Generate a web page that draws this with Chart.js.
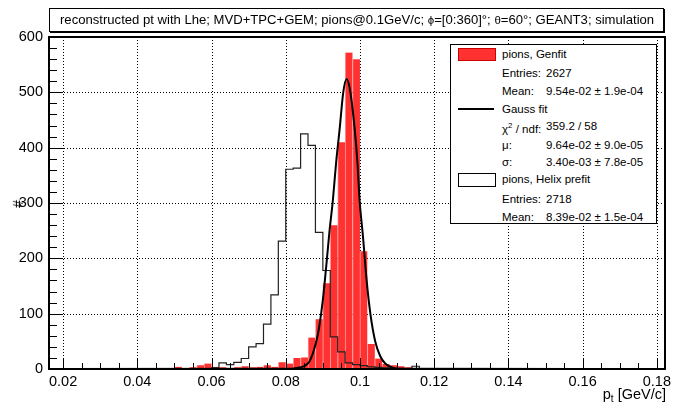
<!DOCTYPE html>
<html>
<head>
<meta charset="utf-8">
<script src="https://cdn.jsdelivr.net/npm/chart.js@4.4.1/dist/chart.umd.min.js"></script>
<style>
  html, body { margin: 0; padding: 0; background: #fff; }
  body { width: 693px; height: 410px; position: relative; overflow: hidden; font-family: "Liberation Sans", Arial, sans-serif; color: #000; }
  #c { position: absolute; left: 0; top: 0; }
  .abs { position: absolute; white-space: nowrap; }
  #titlebox { left: 49px; top: 8px; width: 613px; height: 22px; border: 1px solid #000; background: #fff; box-shadow: 1px 1px 0 #000; }
  #titletext { left: 10px; top: 3px; font-size: 13.1px; }
  #legend { left: 450px; top: 44px; width: 205px; height: 178px; border: 1.5px solid #000; background: #fff; }
  .lt { position: absolute; font-size: 11.5px; line-height: 12px; }
  .sw { position: absolute; left: 7px; width: 36px; }
  #xtitle { right: 27px; top: 386px; font-size: 14.5px; }
  #xtitle sub { font-size: 10px; vertical-align: -3px; }
  #ytitle { left: 14px; top: 196px; font-size: 14px; transform: rotate(-90deg); transform-origin: 50% 50%; }
</style>
</head>
<body>
<canvas id="c" width="693" height="410"></canvas>

<div id="titlebox" class="abs"><span id="titletext" class="abs">reconstructed pt with Lhe; MVD+TPC+GEM; pions@0.1GeV/c; <span style="font-size:11.5px">ϕ</span>=[0:360]°; <span style="font-size:11.5px">θ</span>=60°; GEANT3; simulation</span></div>

<div id="legend" class="abs"></div>

<div id="xtitle" class="abs">p<sub>t</sub> [GeV/c]</div>
<div id="ytitle" class="abs">#</div>

<script>
// ---------------- data ----------------
const binWidth = 0.002; // GeV/c

// Genfit histogram (red, filled): lower bin edges and counts
const genfitBinLow = [0.050,0.052,0.054,0.056,0.058,0.060,0.062,0.064,0.066,0.068,
                      0.070,0.072,0.074,0.076,0.078,0.080,0.082,0.084,0.086,0.088,
                      0.090,0.092,0.094,0.096,0.098,0.100,0.102,0.104,0.106,0.108,
                      0.110,0.112,0.114,0.116];
const genfitCounts = [4,2,3,7,10,4,3,2,3,5,
                      3,4,7,4,12,10,20,21,57,90,
                      155,260,410,572,560,213,45,19,9,7,
                      5,3,2,1];

// Helix prefit histogram (outline): lower bin edges and counts
const helixBinLow = [0.060,0.062,0.064,0.066,0.068,0.070,0.072,0.074,0.076,0.078,
                     0.080,0.082,0.084,0.086,0.088,0.090,0.092,0.094,0.096,0.098,
                     0.100,0.102,0.104,0.106,0.108,0.110,0.112,0.114];
const helixCounts = [2,11,8,12,19,40,46,81,134,231,
                     361,363,425,404,247,178,58,31,11,8,
                     6,4,3,2,1,1,0,5];

// Gauss fit curve
const gaussX = [0.0162,0.0800,0.0830,0.0860,0.0873,0.0887,0.0900,0.0909,0.0918,0.0927,0.0936,0.0945,0.0955,0.0964,
                0.0973,0.0986,0.0993,0.0999,0.1008,0.1018,0.1028,0.1041,0.1054,0.1068,0.1090,0.1130,0.1822];
const gaussY = [0,0.4,2,10,28,64,125,185,250,305,375,432,500,524,
                505,432,375,305,240,160,100,50,24,10,2,0.3,0];

// axes
const xMin = 0.0162, xMax = 0.1822;
const yMin = 0, yMax = 600;
const xTickValues = [0.02,0.04,0.06,0.08,0.10,0.12,0.14,0.16,0.18];
const xTickLabels = ["0.02","0.04","0.06","0.08","0.1","0.12","0.14","0.16","0.18"];
const yTickValues = [0,100,200,300,400,500,600];
const xMinorStep = 0.005, yMinorStep = 20;

// legend texts
const legendRows = [
  {swatch:"fill", label:"pions, Genfit"},
  {label:"Entries:", value:"2627"},
  {label:"Mean:", value:"9.54e-02 ± 1.9e-04"},
  {swatch:"line", label:"Gauss fit"},
  {label:"χ<sup style='font-size:8px'>2</sup> / ndf:", value:"359.2 / 58"},
  {label:"μ:", value:"9.64e-02 ± 9.0e-05"},
  {label:"σ:", value:"3.40e-03 ± 7.8e-05"},
  {swatch:"box", label:"pions, Helix prefit"},
  {label:"Entries:", value:"2718"},
  {label:"Mean:", value:"8.39e-02 ± 1.5e-04"}
];
const legendRowY = [9, 28, 46, 64, 81, 100, 117, 134, 154, 172];

// ---------------- build legend (HTML text) ----------------
const lg = document.getElementById('legend');
legendRows.forEach((r, i) => {
  const y = legendRowY[i];
  const t = document.createElement('div');
  t.className = 'lt';
  t.style.left = '51px';
  t.style.top = (y - 6) + 'px';
  t.innerHTML = r.label;
  lg.appendChild(t);
  if (r.value) {
    const v = document.createElement('div');
    v.className = 'lt';
    v.style.left = '95px';
    v.style.top = (y - 6) + 'px';
    v.textContent = r.value;
    lg.appendChild(v);
  }
  if (r.swatch) {
    const s = document.createElement('div');
    s.className = 'sw';
    if (r.swatch === 'fill') { s.style.top = (y - 6) + 'px'; s.style.height = '11px'; s.style.background = '#ff3131'; s.style.border = '0.5px solid #c00'; }
    if (r.swatch === 'line') { s.style.top = (y - 1) + 'px'; s.style.height = '2px'; s.style.background = '#000'; }
    if (r.swatch === 'box') { s.style.top = (y - 6) + 'px'; s.style.height = '12px'; s.style.border = '1px solid #000'; s.style.background = '#fff'; }
    lg.appendChild(s);
  }
});

// ---------------- datasets ----------------
const genfitData = genfitBinLow.map((lo, i) => ({x: lo + binWidth / 2, y: genfitCounts[i]}));
const helixData = [{x: xMin, y: 0}]
  .concat(helixBinLow.map((lo, i) => ({x: lo, y: helixCounts[i]})))
  .concat([{x: helixBinLow[helixBinLow.length - 1] + binWidth, y: 0}, {x: xMax, y: 0}]);
const gaussData = gaussX.map((x, i) => ({x: x, y: gaussY[i]}));

// ---------------- plugins ----------------
const gridPlugin = {
  id: 'dottedGrid',
  beforeDatasetsDraw(chart) {
    const {ctx, chartArea: a, scales} = chart;
    ctx.save();
    ctx.strokeStyle = '#000';
    ctx.lineWidth = 1;
    ctx.setLineDash([1, 2]);
    ctx.beginPath();
    xTickValues.forEach(v => {
      const px = Math.round(scales.x.getPixelForValue(v)) + 0.5;
      ctx.moveTo(px, a.top); ctx.lineTo(px, a.bottom);
    });
    yTickValues.forEach(v => {
      if (v === yMin || v === yMax) return;
      const py = Math.round(scales.y.getPixelForValue(v)) + 0.5;
      ctx.moveTo(a.left, py); ctx.lineTo(a.right, py);
    });
    ctx.stroke();
    ctx.restore();
  }
};

const framePlugin = {
  id: 'frame',
  afterDraw(chart) {
    const {ctx, chartArea: a, scales} = chart;
    ctx.save();
    ctx.strokeStyle = '#000';
    ctx.lineWidth = 1;
    ctx.beginPath();
    for (let v = yMin; v <= yMax + 1e-9; v += yMinorStep) {
      const py = Math.round(scales.y.getPixelForValue(v)) + 0.5;
      const len = (v % 100 === 0) ? 14 : 8;
      ctx.moveTo(a.left, py); ctx.lineTo(a.left + len, py);
    }
    const first = Math.ceil(xMin / xMinorStep - 1e-9);
    for (let k = first; k * xMinorStep <= xMax + 1e-12; k++) {
      const v = k * xMinorStep;
      const px = Math.round(scales.x.getPixelForValue(v)) + 0.5;
      const major = xTickValues.some(t => Math.abs(t - v) < 1e-9);
      const len = major ? 11 : 6;
      ctx.moveTo(px, a.bottom); ctx.lineTo(px, a.bottom - len);
    }
    ctx.stroke();
    ctx.lineWidth = 2;
    ctx.strokeRect(a.left, a.top, a.right - a.left, a.bottom - a.top);
    ctx.restore();
  }
};

// ---------------- chart ----------------
const FONT = "'Liberation Sans', Arial, sans-serif";
new Chart(document.getElementById('c'), {
  type: 'bar',
  data: {
    datasets: [
      {
        type: 'line', label: 'Gauss fit', data: gaussData, order: 0,
        borderColor: '#000', borderWidth: 2, pointRadius: 0, fill: false,
        cubicInterpolationMode: 'monotone', tension: 0.4
      },
      {
        type: 'line', label: 'pions, Helix prefit', data: helixData, order: 1,
        borderColor: '#222', borderWidth: 1.2, pointRadius: 0, fill: false, stepped: true
      },
      {
        type: 'bar', label: 'pions, Genfit', data: genfitData, order: 2,
        backgroundColor: '#ff3131', borderColor: '#ff9a9a',
        borderWidth: {left: 1, right: 0, top: 0, bottom: 0}, borderSkipped: false,
        barPercentage: 1.0, categoryPercentage: 1.0
      }
    ]
  },
  options: {
    responsive: false,
    animation: false,
    devicePixelRatio: 1,
    layout: { padding: { top: 37, right: 28, left: 0, bottom: 0 } },
    plugins: { legend: { display: false }, tooltip: { enabled: false }, title: { display: false } },
    scales: {
      x: {
        type: 'linear', min: xMin, max: xMax, offset: false,
        afterFit(s) { s.height = 41; },
        afterBuildTicks(s) { s.ticks = xTickValues.map(v => ({value: v})); },
        ticks: {
          autoSkip: false, maxRotation: 0, padding: 4, color: '#000',
          font: { family: FONT, size: 14.5 },
          callback(v) { const i = xTickValues.findIndex(t => Math.abs(t - v) < 1e-9); return i >= 0 ? xTickLabels[i] : ''; }
        },
        grid: { display: false, drawTicks: false },
        border: { display: false }
      },
      y: {
        type: 'linear', min: yMin, max: yMax,
        afterFit(s) { s.width = 49; },
        afterBuildTicks(s) { s.ticks = yTickValues.map(v => ({value: v})); },
        ticks: { padding: 6, color: '#000', font: { family: FONT, size: 14.5 } },
        grid: { display: false, drawTicks: false },
        border: { display: false }
      }
    }
  },
  plugins: [gridPlugin, framePlugin]
});
</script>
</body>
</html>
